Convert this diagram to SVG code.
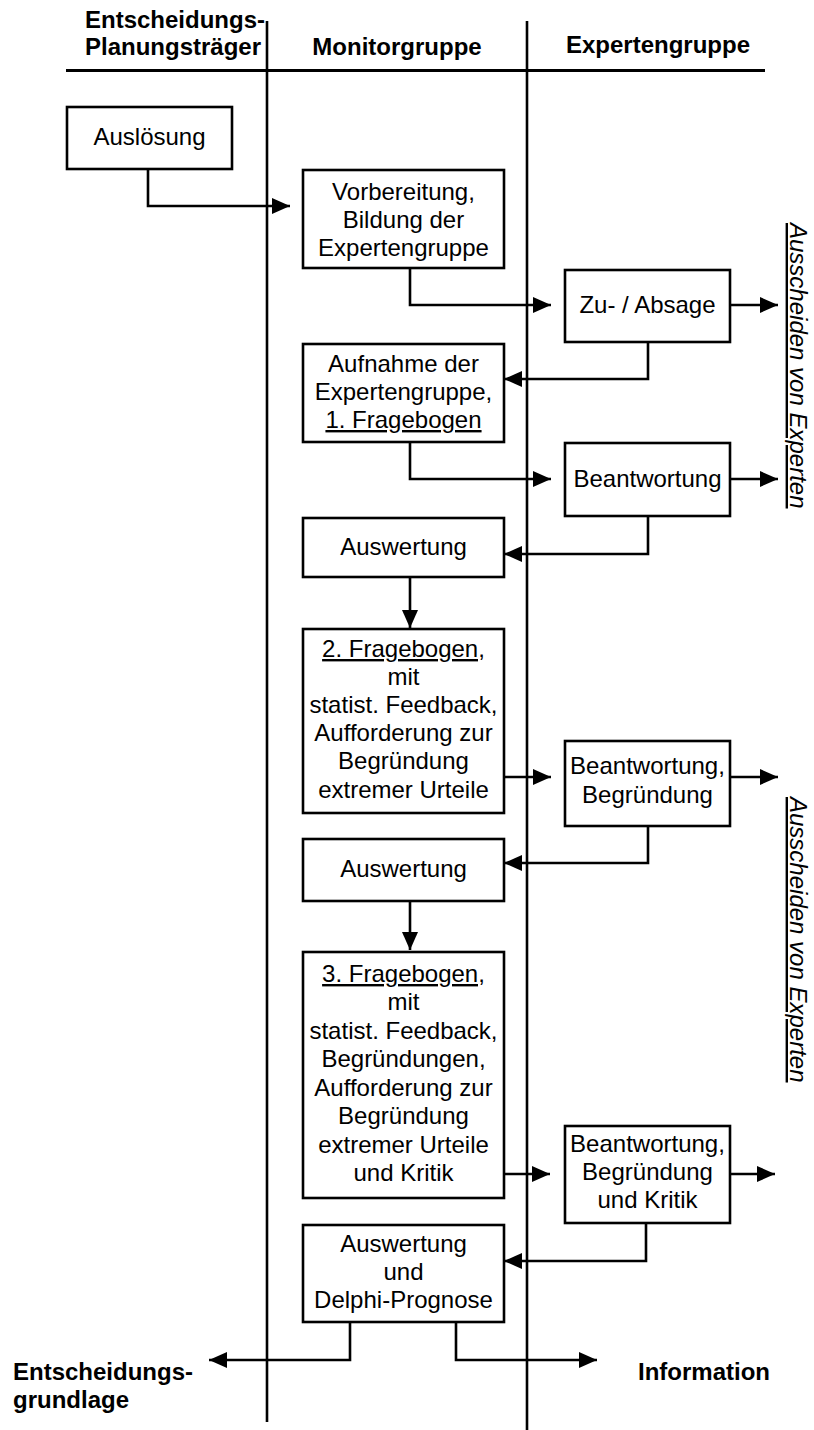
<svg xmlns="http://www.w3.org/2000/svg" width="814" height="1430" viewBox="0 0 814 1430">
<style>
text{font-family:"Liberation Sans",Arial,sans-serif;font-size:24px;fill:#000}
.b{font-weight:bold}
.c{text-anchor:middle}
.u{text-decoration:underline}
.box{fill:#fff;stroke:#000;stroke-width:2.6}
.ln{fill:none;stroke:#000;stroke-width:2.6}
.con{fill:none;stroke:#000;stroke-width:2.6;marker-end:url(#ah)}
.side{font-style:italic;text-decoration:underline}
</style>
<defs>
<marker id="ah" markerUnits="userSpaceOnUse" markerWidth="19" markerHeight="17" refX="18" refY="8" orient="auto">
<path d="M0,0 L18,8 L0,16 z" fill="#000"/>
</marker>
</defs>
<rect width="814" height="1430" fill="#fff"/>
<g id="lanes">
<line class="ln" x1="66" y1="70.5" x2="765" y2="70.5" style="stroke-width:3"/>
<line class="ln" x1="267" y1="21" x2="267" y2="1422"/>
<line class="ln" x1="527" y1="21" x2="527" y2="1430"/>
<text class="b" x="85" y="28">Entscheidungs-</text>
<text class="b" x="85" y="55">Planungsträger</text>
<text class="b c" x="397" y="55">Monitorgruppe</text>
<text class="b c" x="658" y="53">Expertengruppe</text>
</g>
<g id="connectors">
<path class="con" d="M148,169 V206 H290"/>
<path class="con" d="M410,268 V305 H551"/>
<path class="con" d="M730,305 H778"/>
<path class="con" d="M648,342 V379 H504"/>
<path class="con" d="M410,442 V479 H551"/>
<path class="con" d="M730,479 H778"/>
<path class="con" d="M648,516 V554 H504"/>
<path class="con" d="M410,577 V628"/>
<path class="con" d="M504,777 H551"/>
<path class="con" d="M730,777 H778"/>
<path class="con" d="M648,826 V863 H504"/>
<path class="con" d="M410,901 V950"/>
<path class="con" d="M504,1174 H550"/>
<path class="con" d="M730,1174 H775"/>
<path class="con" d="M646,1223 V1261 H504"/>
<path class="con" d="M350,1322 V1360 H209"/>
<path class="con" d="M456,1322 V1360 H597"/>
</g>
<g id="n1"><rect class="box" x="67" y="107" width="165" height="62"/><text class="c" x="149.5" y="145">Auslösung</text></g>
<g id="n2"><rect class="box" x="303" y="170" width="201" height="98"/>
<text class="c" x="403.5" y="200">Vorbereitung,</text><text class="c" x="403.5" y="228">Bildung der</text><text class="c" x="403.5" y="256">Expertengruppe</text></g>
<g id="n3"><rect class="box" x="565" y="270" width="165" height="72"/><text class="c" x="647.5" y="313">Zu- / Absage</text></g>
<g id="n4"><rect class="box" x="303" y="344" width="201" height="98"/>
<text class="c" x="403.5" y="372">Aufnahme der</text><text class="c" x="403.5" y="400">Expertengruppe,</text><text class="c u" x="403.5" y="428">1. Fragebogen</text></g>
<g id="n5"><rect class="box" x="565" y="443" width="165" height="73"/><text class="c" x="647.5" y="487">Beantwortung</text></g>
<g id="n6"><rect class="box" x="303" y="518" width="201" height="59"/><text class="c" x="403.5" y="555">Auswertung</text></g>
<g id="n7"><rect class="box" x="303" y="629" width="201" height="184"/>
<text class="c u" x="403.5" y="657">2. Fragebogen,</text>
<text class="c" x="403.5" y="685">mit</text>
<text class="c" x="403.5" y="713">statist. Feedback,</text>
<text class="c" x="403.5" y="741">Aufforderung zur</text>
<text class="c" x="403.5" y="769">Begründung</text>
<text class="c" x="403.5" y="798">extremer Urteile</text></g>
<g id="n8"><rect class="box" x="565" y="741" width="165" height="85"/>
<text class="c" x="647.5" y="774">Beantwortung,</text><text class="c" x="647.5" y="803">Begründung</text></g>
<g id="n9"><rect class="box" x="303" y="839" width="201" height="62"/><text class="c" x="403.5" y="877">Auswertung</text></g>
<g id="n10"><rect class="box" x="303" y="952" width="201" height="246"/>
<text class="c u" x="403.5" y="982">3. Fragebogen,</text>
<text class="c" x="403.5" y="1010">mit</text>
<text class="c" x="403.5" y="1039">statist. Feedback,</text>
<text class="c" x="403.5" y="1067">Begründungen,</text>
<text class="c" x="403.5" y="1096">Aufforderung zur</text>
<text class="c" x="403.5" y="1124">Begründung</text>
<text class="c" x="403.5" y="1153">extremer Urteile</text>
<text class="c" x="403.5" y="1181">und Kritik</text></g>
<g id="n11"><rect class="box" x="565" y="1126" width="165" height="97"/>
<text class="c" x="647.5" y="1152">Beantwortung,</text><text class="c" x="647.5" y="1180">Begründung</text><text class="c" x="647.5" y="1208">und Kritik</text></g>
<g id="n12"><rect class="box" x="303" y="1225" width="201" height="97"/>
<text class="c" x="403.5" y="1252">Auswertung</text><text class="c" x="403.5" y="1280">und</text><text class="c" x="403.5" y="1308">Delphi-Prognose</text></g>
<g id="out1"><text class="b" x="13" y="1380">Entscheidungs-</text><text class="b" x="13" y="1408">grundlage</text></g>
<g id="out2"><text class="b" x="638" y="1380">Information</text></g>
<g id="side1"><text class="side" transform="translate(790,223) rotate(90)">Ausscheiden von Experten</text></g>
<g id="side2"><text class="side" transform="translate(790,797) rotate(90)">Ausscheiden von Experten</text></g>
</svg>
